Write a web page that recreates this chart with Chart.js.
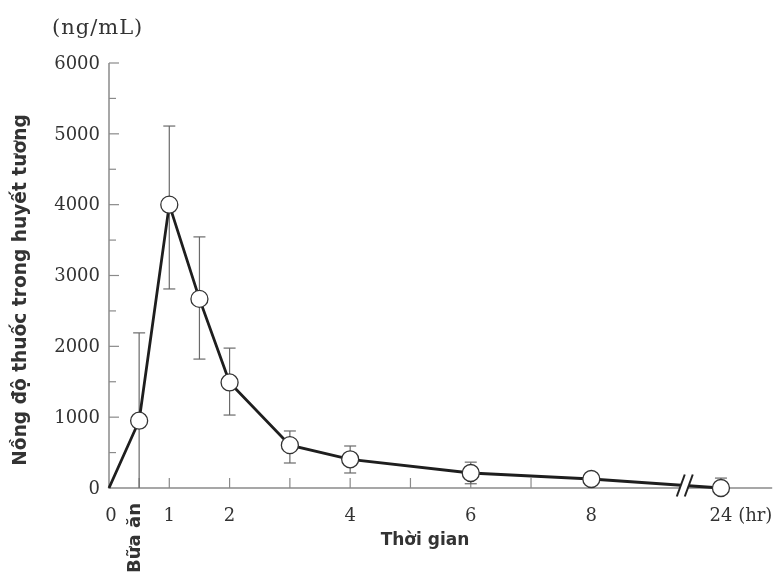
<!DOCTYPE html>
<html><head><meta charset="utf-8">
<script src="https://cdn.jsdelivr.net/npm/chart.js@4/dist/chart.umd.min.js"></script>
<style>html,body{margin:0;padding:0;background:#fff;} #wrap{width:782px;height:574px;}</style>
</head><body><div id="wrap"><canvas id="c" width="782" height="574"></canvas></div>
<script>
// ---- data ----
const timeHours = [0, 0.5, 1, 1.5, 2, 3, 4, 6, 8, 24];
const meanConc  = [0, 950, 4000, 2670, 1490, 605, 405, 212, 127, 0];
const errUpper  = [null, 2190, 5110, 3545, 1975, 805, 593, 365, null, 140];
const errLower  = [null, 0, 2810, 1820, 1030, 353, 212, 60, null, null];
const yTickValues = [0, 1000, 2000, 3000, 4000, 5000, 6000];
const yTickLabels = ["0", "1000", "2000", "3000", "4000", "5000", "6000"];
const yMinorStep = 500;
const xTickValues = [0, 1, 2, 4, 6, 8, 24];
const xTickLabels = ["0", "1", "2", "4", "6", "8", "24 (hr)"];
const xTickMarks  = [0.5, 1, 2, 3, 4, 5, 6, 7, 8];
const mealTime = 0.5;
const mealLabel = "Bữa ăn";
const yUnit = "(ng/mL)";
const yTitle = "Nồng độ thuốc trong huyết tương";
const xTitle = "Thời gian";
// broken time axis: hours beyond 8 are compressed to one slot
const LAST_REGULAR = 8, LATE_SLOT = 10.15, BREAK_SLOT = 9.55;
function axisPos(t){ return t <= LAST_REGULAR ? t : LATE_SLOT; }

const INK = '#333';
const AXIS = '#8a8a8a';
const SERIF = '"DejaVu Serif", serif';
const SANS = '"DejaVu Sans", sans-serif';

const drawPlugin = {
  id: 'pkDraw',
  beforeDatasetsDraw(chart){
    const ctx = chart.ctx, xs = chart.scales.x, ys = chart.scales.y;
    const x0 = xs.getPixelForValue(0), y0 = ys.getPixelForValue(0);
    ctx.save();
    // axes
    ctx.strokeStyle = AXIS; ctx.lineWidth = 1.5;
    ctx.beginPath();
    ctx.moveTo(x0, ys.getPixelForValue(6000)); ctx.lineTo(x0, y0);
    ctx.lineTo(xs.right, y0);
    ctx.stroke();
    // y ticks (inward)
    ctx.lineWidth = 1.2;
    for (let v = yMinorStep; v <= 6000; v += yMinorStep){
      const py = ys.getPixelForValue(v);
      const len = (v % 1000 === 0) ? 10 : 7;
      ctx.beginPath(); ctx.moveTo(x0, py); ctx.lineTo(x0 + len, py); ctx.stroke();
    }
    // x ticks (inward)
    xTickMarks.forEach(t => {
      const px = xs.getPixelForValue(axisPos(t));
      ctx.beginPath(); ctx.moveTo(px, y0); ctx.lineTo(px, y0 - 10); ctx.stroke();
    });
    // error bars
    ctx.strokeStyle = '#6a6a6a'; ctx.lineWidth = 1.2;
    timeHours.forEach((t, i) => {
      const px = xs.getPixelForValue(axisPos(t));
      const hi = errUpper[i], lo = errLower[i];
      if (hi == null && lo == null) return;
      const top = ys.getPixelForValue(hi != null ? hi : meanConc[i]);
      const bot = ys.getPixelForValue(lo != null ? lo : meanConc[i]);
      ctx.beginPath(); ctx.moveTo(px, top); ctx.lineTo(px, bot); ctx.stroke();
      if (hi != null){ ctx.beginPath(); ctx.moveTo(px - 6, top); ctx.lineTo(px + 6, top); ctx.stroke(); }
      if (lo != null && lo > 0){ ctx.beginPath(); ctx.moveTo(px - 6, bot); ctx.lineTo(px + 6, bot); ctx.stroke(); }
    });
    ctx.restore();
  },
  afterDatasetsDraw(chart){
    const ctx = chart.ctx, xs = chart.scales.x;
    const meta = chart.getDatasetMeta(0).data;
    // axis break on the line
    const a = meta[8], b = meta[9];
    const cx = xs.getPixelForValue(BREAK_SLOT);
    const cy = a.y + (b.y - a.y) * (cx - a.x) / (b.x - a.x);
    ctx.save();
    const h = 11, sl = 4, gap = 4;
    ctx.fillStyle = '#fff';
    ctx.beginPath();
    ctx.moveTo(cx - gap - sl, cy + h); ctx.lineTo(cx - gap + sl, cy - h);
    ctx.lineTo(cx + gap + sl, cy - h); ctx.lineTo(cx + gap - sl, cy + h);
    ctx.closePath(); ctx.fill();
    ctx.strokeStyle = '#222'; ctx.lineWidth = 2;
    [-gap, gap].forEach(s => {
      ctx.beginPath(); ctx.moveTo(cx + s - sl, cy + h); ctx.lineTo(cx + s + sl, cy - h); ctx.stroke();
    });
    ctx.restore();
  },
  afterDraw(chart){
    const ctx = chart.ctx, xs = chart.scales.x, ys = chart.scales.y;
    const x0 = xs.getPixelForValue(0), y0 = ys.getPixelForValue(0);
    ctx.save();
    ctx.fillStyle = INK;
    // y tick labels
    ctx.font = '18px ' + SERIF;
    ctx.textAlign = 'right'; ctx.textBaseline = 'middle';
    yTickValues.forEach((v, i) => {
      ctx.fillText(yTickLabels[i], x0 - 9, ys.getPixelForValue(v) + 1);
    });
    // x tick labels
    ctx.textBaseline = 'middle';
    xTickValues.forEach((t, i) => {
      const px = xs.getPixelForValue(axisPos(t));
      const lab = xTickLabels[i];
      const first = lab.split(' ')[0];
      const w = ctx.measureText(first).width;
      ctx.textAlign = 'left';
      ctx.fillText(lab, px - w / 2 + (t === 0 ? 2 : 0), y0 + 28);
    });
    // unit
    ctx.font = '21px ' + SERIF;
    ctx.textAlign = 'left';
    try { ctx.letterSpacing = '1px'; } catch(e){}
    ctx.fillText(yUnit, 52, 29);
    try { ctx.letterSpacing = '0px'; } catch(e){}
    // meal label (rotated)
    ctx.font = 'bold 18px ' + SANS;
    ctx.save();
    ctx.translate(xs.getPixelForValue(mealTime) - 4, y0 + 50);
    ctx.rotate(-Math.PI / 2);
    ctx.textAlign = 'center'; ctx.textBaseline = 'middle';
    ctx.fillText(mealLabel, 0, 0);
    ctx.restore();
    // y title
    ctx.font = 'bold 18.6px ' + SANS;
    ctx.save();
    ctx.translate(21, 290);
    ctx.rotate(-Math.PI / 2);
    ctx.textAlign = 'center'; ctx.textBaseline = 'middle';
    ctx.fillText(yTitle, 0, 0);
    ctx.restore();
    // x title
    ctx.font = 'bold 17px ' + SANS;
    ctx.textAlign = 'center'; ctx.textBaseline = 'middle';
    ctx.fillText(xTitle, 425, 541);
    ctx.restore();
  }
};

new Chart(document.getElementById('c'), {
  type: 'line',
  data: {
    datasets: [{
      data: timeHours.map((t, i) => ({ x: axisPos(t), y: meanConc[i] })),
      borderColor: '#1e1e1e',
      borderWidth: 2.8,
      tension: 0,
      pointRadius: ctx => ctx.dataIndex === 0 ? 0 : 8.5,
      pointBackgroundColor: '#fff',
      pointBorderColor: '#333',
      pointBorderWidth: 1.3,
      clip: false
    }]
  },
  options: {
    responsive: false,
    animation: false,
    layout: { padding: { left: 109, right: 5, top: 63, bottom: 86 } },
    plugins: { legend: { display: false }, tooltip: { enabled: false } },
    scales: {
      x: { type: 'linear', min: 0, max: 11, display: false },
      y: { type: 'linear', min: 0, max: 6000, display: false }
    }
  },
  plugins: [drawPlugin]
});
</script>
</body></html>
